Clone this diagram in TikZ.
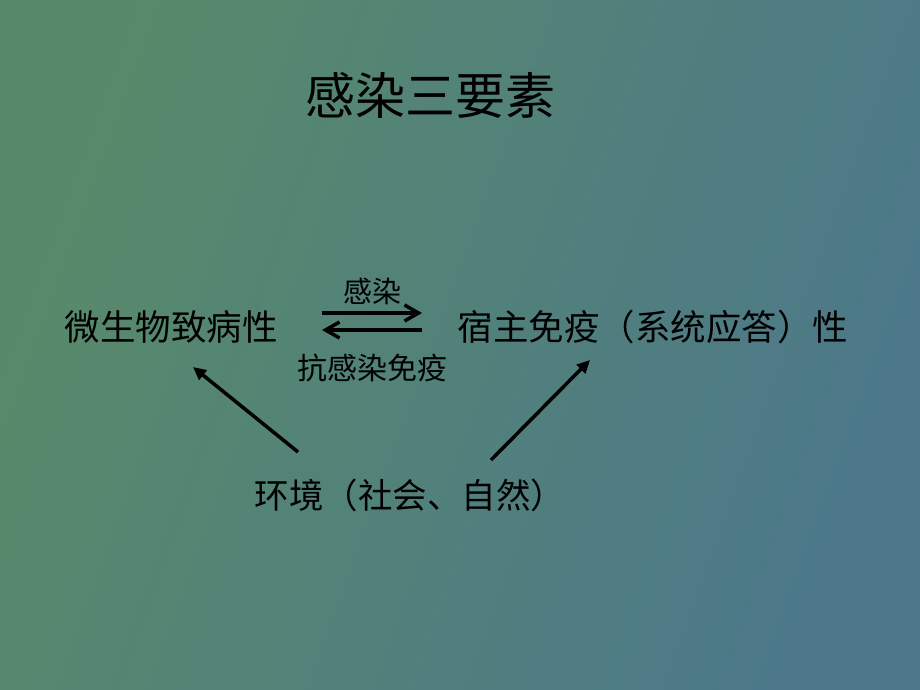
\documentclass[tikz,border=0pt]{standalone}
\usepackage{fontspec}
\newfontfamily\cjk{Noto Sans CJK SC}
\usetikzlibrary{calc}
\usetikzlibrary{arrows.meta}

\definecolor{bgGreen}{RGB}{88,138,106}
\definecolor{bgBlue}{RGB}{76,120,138}

\begin{document}
\begin{tikzpicture} [x=1pt, y=-1pt, inner sep=0pt]

\shade[left color=bgGreen, right color=bgBlue, shading angle=70] (0,0) rectangle (920,690);
\useasboundingbox (0,0) rectangle (920,690);

\node (T) at (430,95) {\cjk\fontsize{50}{50}\selectfont 感染三要素};
\node (M) at (171,327) {\cjk\fontsize{35.5}{36}\selectfont 微生物致病性};
\node (H) at (653,327) {\cjk\fontsize{35.5}{36}\selectfont 宿主免疫（系统应答）性};
\node (E) at (410,495) {\cjk\fontsize{34.5}{35}\selectfont 环境（社会、自然）};

\coordinate (A1) at (322,313);
\coordinate (B1) at (422,313);
\coordinate (A2) at (422,330);
\coordinate (B2) at (322,330);
\coordinate (L0) at (298,452);
\coordinate (L1) at (193,367);
\coordinate (R0) at (491,460);
\coordinate (R1) at (590,360);

\draw[black,line width=4pt,-{Straight Barb[length=14pt,width=16pt,line width=3.5pt]}] (A1) -- (B1) node[above=6pt,midway] (I) {\cjk\fontsize{29}{29}\selectfont 感染};
\draw[black,line width=4pt,-{Straight Barb[length=14pt,width=16pt,line width=3.5pt]}] (A2) -- (B2) node[below=22pt,midway] (D) {\cjk\fontsize{30}{30}\selectfont 抗感染免疫};
\draw[black,line width=3.5pt,-{Triangle[length=13pt,width=12pt]}] (L0) -- (L1);
\draw[black,line width=3.5pt,-{Triangle[length=13pt,width=12pt]}] (R0) -- (R1);

\end{tikzpicture}
\end{document}
